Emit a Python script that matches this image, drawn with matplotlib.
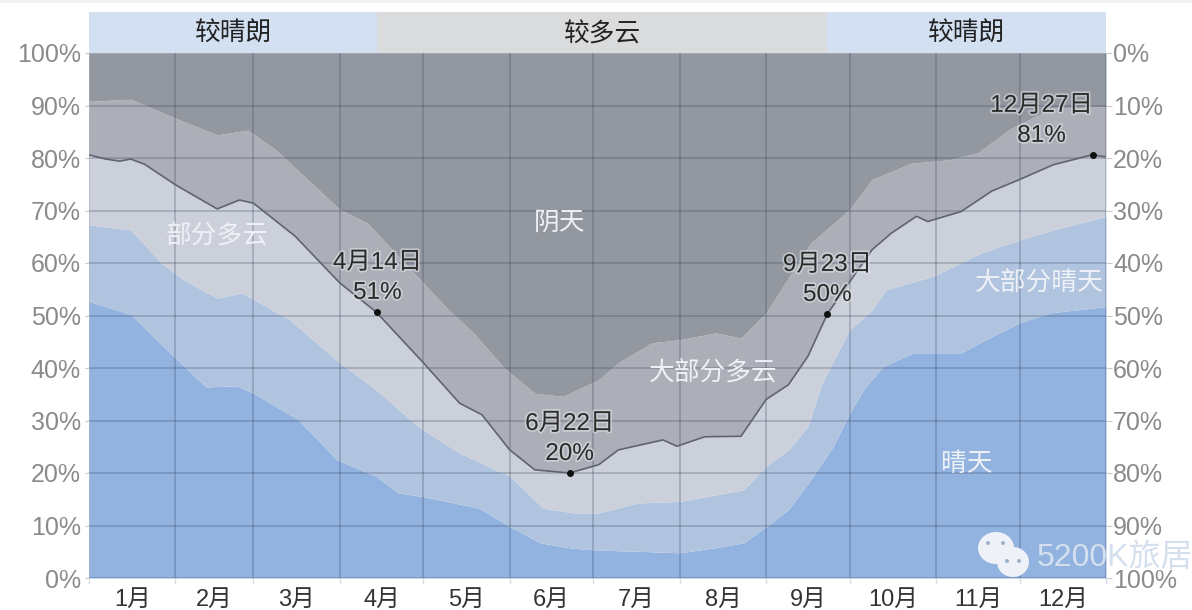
import matplotlib
matplotlib.use("Agg")
import matplotlib.pyplot as plt
import matplotlib.patheffects as pe
from matplotlib.patches import Ellipse, Rectangle
import numpy as np

plt.rcParams['font.family'] = ['Liberation Sans', 'Noto Sans CJK SC', 'DejaVu Sans']

#DATA (day of year, % of time cloud cover is at or below the band)
clear_days = [0, 15, 31, 42, 53, 59, 75, 89, 103, 111, 120, 140, 151, 162, 173, 183, 197, 212, 224, 235, 243, 251, 259, 267, 273, 278, 285, 296, 313, 324, 334, 345, 365]
clear_vals = [52.7, 50.2, 41.9, 36.4, 36.6, 35.2, 30.2, 22.5, 19.4, 16.2, 15.5, 13.3, 9.8, 6.7, 5.7, 5.3, 5.1, 4.8, 5.7, 6.7, 9.8, 13, 18.7, 25, 31.4, 35.9, 40.3, 42.9, 42.9, 46, 48.6, 50.5, 51.7]

mostly_clear_days = [0, 15, 26, 34, 46, 55, 72, 90, 103, 118, 133, 151, 163, 174, 183, 197, 212, 235, 243, 251, 258, 263, 273, 281, 286, 303, 320, 334, 346, 365]
mostly_clear_vals = [67.3, 66.3, 60, 56.8, 53.3, 54.3, 49.2, 41, 35.9, 28.9, 23.8, 19.4, 13.3, 12.4, 12.4, 14.3, 14.6, 16.8, 21.3, 24.4, 28.9, 37.1, 47.3, 51, 54.9, 57.5, 61.9, 64.4, 66.3, 68.9]

partly_days = [0, 6, 11, 15, 20, 31, 46, 54, 59, 74, 90, 103, 110, 120, 133, 141, 151, 160, 172.5, 183, 190, 206, 211, 221, 234, 243, 251, 258, 265, 273, 281, 288, 297, 301, 313, 324, 334, 346, 360, 365]
partly_vals = [80.6, 79.8, 79.4, 79.8, 78.8, 74.9, 70.3, 72, 71.4, 65.1, 56.2, 50.7, 46.7, 41, 33.3, 31.1, 24.4, 20.6, 20, 21.6, 24.4, 26.3, 25.1, 26.9, 27, 34, 36.8, 42.2, 50.3, 56.4, 62.5, 65.7, 68.9, 67.9, 69.8, 73.7, 75.9, 78.7, 80.6, 80.2]

mostly_cloudy_days = [0, 15, 31, 46, 57, 67, 90, 100, 120, 129, 138, 149, 160, 170, 183, 190, 202, 212, 225, 234, 243, 259, 273, 281, 295, 309, 319, 331, 346, 365]
mostly_cloudy_vals = [90.8, 91.2, 87.6, 84.4, 85.3, 81.6, 70.2, 67.6, 56.2, 51.1, 46.7, 40, 35.2, 34.6, 37.8, 41, 44.8, 45.4, 46.7, 45.7, 50.5, 63.8, 70.2, 75.9, 79, 79.7, 81, 85.7, 89.5, 89.8]

month_edges = [0, 31, 59, 90, 120, 151, 181, 212, 243, 273, 304, 334, 365]
month_labels = ['1月', '2月', '3月', '4月', '5月', '6月', '7月', '8月', '9月', '10月', '11月', '12月']
pct_ticks = [0, 10, 20, 30, 40, 50, 60, 70, 80, 90, 100]

band_edges = [0, 103.5, 265, 365]
band_labels = ['较晴朗', '较多云', '较晴朗']
band_colors = ['#d3e0f2', '#d9dbdd', '#d3e0f2']

marker_days = [103.5, 172.5, 265, 360.5]
marker_vals = [50.7, 20, 50.3, 80.6]
marker_dates = ['4月14日', '6月22日', '9月23日', '12月27日']
marker_pcts = ['51%', '20%', '50%', '81%']
marker_dx = [0, 0, 0, -52]

region_labels = ['部分多云', '阴天', '大部分多云', '大部分晴天', '晴天']
region_days = [46, 169, 224, 341, 315]
region_vals = [65, 67.6, 38.9, 56, 21.7]

#FIGURE
W, H = 1192, 610
fig = plt.figure(figsize=(W/100, H/100), dpi=100)
fig.patches.append(Rectangle((0, 607/H), 1, 3/H, transform=fig.transFigure, color='#f2f2f2', lw=0))
ax = fig.add_axes([89/W, (H-578)/H, 1017/W, 525/H])
top = fig.add_axes([89/W, (H-53)/H, 1017/W, 41/H])

#cumulative bands
days = np.arange(0, 366)
c1 = np.interp(days, clear_days, clear_vals)
c2 = np.interp(days, mostly_clear_days, mostly_clear_vals)
c3 = np.interp(days, partly_days, partly_vals)
c4 = np.interp(days, mostly_cloudy_days, mostly_cloudy_vals)
ax.fill_between(days, 0, c1, color='#92b3df', lw=0)
ax.fill_between(days, c1, c2, color='#b0c4df', lw=0)
ax.fill_between(days, c2, c3, color='#cbd0da', lw=0)
ax.fill_between(days, c3, c4, color='#acafb7', lw=0)
ax.fill_between(days, c4, 100, color='#93979f', lw=0)
ax.plot(partly_days, partly_vals, color='#5f6470', lw=1.2, zorder=3)

ax.set_xlim(0, 365)
ax.set_ylim(0, 100)
for s in ax.spines.values():
    s.set_visible(False)
ax.set_xticks(month_edges)
ax.set_xticklabels([])
ax.set_xticks([(month_edges[i]+month_edges[i+1])/2 for i in range(12)], minor=True)
ax.set_xticklabels(month_labels, minor=True)
ax.tick_params(axis='x', which='major', length=4, color='#d8dde6', width=1)
ax.tick_params(axis='x', which='minor', length=0, labelsize=17, labelcolor='#333333', pad=8)
ax.set_yticks(pct_ticks)
ax.set_yticklabels([str(p)+'%' for p in pct_ticks])
ax.tick_params(axis='y', length=3, color='#c8c8c8', labelsize=18, labelcolor='#8a8a8a', pad=3)
ax.grid(True, which='major', color='#3c4660', alpha=0.3, lw=1.2, zorder=2)
ax.set_axisbelow(False)

right = ax.twinx()
right.set_ylim(100, 0)
right.set_yticks(pct_ticks)
right.set_yticklabels([str(p)+'%' for p in pct_ticks])
right.tick_params(axis='y', length=4, color='#c8c8c8', labelsize=18, labelcolor='#8a8a8a', pad=1)
for s in right.spines.values():
    s.set_visible(False)

#top band
top.set_xlim(0, 365)
top.set_ylim(0, 1)
top.axis('off')
for i in range(3):
    top.axvspan(band_edges[i], band_edges[i+1], color=band_colors[i], lw=0)
    top.text((band_edges[i]+band_edges[i+1])/2, 0.46, band_labels[i], ha='center', va='center', fontsize=18.5, color='#222222')

#marked days
halo = [pe.withStroke(linewidth=2.5, foreground='#e4e6ea', alpha=0.55)]
ax.scatter(marker_days, marker_vals, s=16, color='#111111', zorder=5)
for d, v, date, pct, dx in zip(marker_days, marker_vals, marker_dates, marker_pcts, marker_dx):
    ax.annotate(date, (d, v), xytext=(dx, 49), textcoords='offset pixels', ha='center', va='center',
                fontsize=17.5, color='#2b2b2b', path_effects=halo, zorder=6)
    ax.annotate(pct, (d, v), xytext=(dx, 19), textcoords='offset pixels', ha='center', va='center',
                fontsize=17.5, color='#2b2b2b', path_effects=halo, zorder=6)

for name, d, v in zip(region_labels, region_days, region_vals):
    ax.text(d, v, name, ha='center', va='center', fontsize=18.5, color='#eef1f6', zorder=6)

#watermark
for cx, cy, w, h in [(996, 548, 36, 32), (1013, 562, 32, 30)]:
    fig.patches.append(Ellipse((cx/W, (H-cy)/H), w/W, h/H, transform=fig.transFigure, color='#eef2f8', lw=0, zorder=7))
for cx, cy in [(988, 543), (1003, 543), (1007, 561), (1019, 561)]:
    fig.patches.append(Ellipse((cx/W, (H-cy)/H), 4/W, 4/H, transform=fig.transFigure, color='#9fb0c8', lw=0, zorder=8))
fig.text(1037/W, (H-558)/H, '5200K旅居', ha='left', va='center', fontsize=23, color='#d5e0ee', zorder=9)

fig.savefig('out.png', dpi=100)
